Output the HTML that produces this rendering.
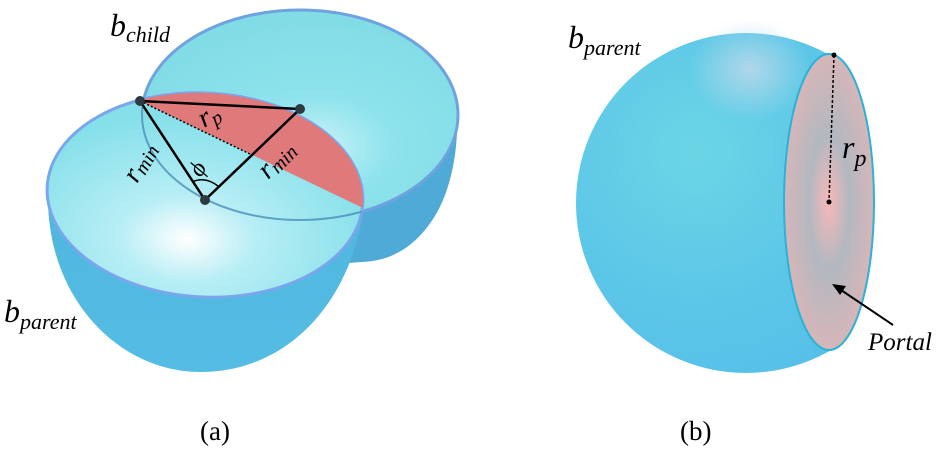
<!DOCTYPE html>
<html><head><meta charset="utf-8"><style>html,body{margin:0;padding:0;background:#fff}svg{display:block}</style></head><body>
<svg width="952" height="452" viewBox="0 0 952 452" xmlns="http://www.w3.org/2000/svg" font-family="Liberation Serif, serif">
<defs>
<radialGradient id="inA" cx="0.45" cy="0.72" r="0.6"><stop offset="0" stop-color="#ffffff"/><stop offset="0.35" stop-color="#b8eef5"/><stop offset="1" stop-color="#86e0ea"/></radialGradient>
<radialGradient id="inB" cx="0.55" cy="0.65" r="0.6"><stop offset="0" stop-color="#c9f2f8"/><stop offset="0.4" stop-color="#8ee3ec"/><stop offset="1" stop-color="#82dce6"/></radialGradient>
<linearGradient id="bodyA" x1="0" y1="0" x2="0" y2="1"><stop offset="0" stop-color="#4fb6de"/><stop offset="1" stop-color="#55bde3"/></linearGradient>
<radialGradient id="sph" cx="0.35" cy="0.35" r="0.75"><stop offset="0" stop-color="#6bd5e6"/><stop offset="0.6" stop-color="#5cc6e8"/><stop offset="1" stop-color="#56bfe8"/></radialGradient>
<radialGradient id="hl" cx="0.5" cy="0.5" r="0.5"><stop offset="0" stop-color="#b4d8ea" stop-opacity="0.95"/><stop offset="1" stop-color="#b4d8ea" stop-opacity="0"/></radialGradient>
<radialGradient id="portal" cx="0.5" cy="0.5" r="0.5"><stop offset="0" stop-color="#f7b8b8"/><stop offset="0.45" stop-color="#b2b8c0"/><stop offset="1" stop-color="#d6b6b8"/></radialGradient>
<clipPath id="cl"><rect x="0" y="0" width="829" height="452"/></clipPath>
<clipPath id="parentRim"><ellipse cx="205" cy="195" rx="158" ry="102" transform="rotate(3 205 195)"/></clipPath>
</defs>
<path d="M457,113 C460,200 420,262 360,262 L300,220 Z" fill="#4fa9d6"/>
<path d="M300,220 L457,113 C458,210 420,262 345,263 Z" fill="#50aad7"/>
<ellipse cx="300" cy="115" rx="158" ry="105" fill="url(#inB)" stroke="#6fa3e0" stroke-width="3"/>
<path d="M48,198 C48,300 120,372 200,372 C290,372 350,300 363,212 Z" fill="url(#bodyA)"/>
<ellipse cx="205" cy="195" rx="158" ry="102" transform="rotate(3 205 195)" fill="url(#inA)" stroke="#7aa6ec" stroke-width="3"/>
<g clip-path="url(#parentRim)">
<path d="M140,101 L363,208 L380,90 L140,80 Z" fill="#e07a7a"/>
<ellipse cx="300" cy="115" rx="158" ry="105" fill="none" stroke="#4a8fb8" stroke-width="2" opacity="0.8"/>
</g>
<line x1="140" y1="101" x2="252" y2="155" stroke="#000" stroke-width="1.5" stroke-dasharray="2,2"/>
<line x1="140" y1="101" x2="300" y2="109" stroke="#000" stroke-width="2.5"/>
<line x1="140" y1="101" x2="205" y2="200" stroke="#000" stroke-width="2.5"/>
<line x1="205" y1="200" x2="300" y2="109" stroke="#000" stroke-width="2.5"/>
<path d="M192,182 Q205,176 218,186" fill="none" stroke="#000" stroke-width="1.5"/>
<circle cx="140" cy="101" r="5" fill="#2b3b40"/><circle cx="300" cy="109" r="5" fill="#2b3b40"/><circle cx="205" cy="200" r="5" fill="#2b3b40"/>
<text x="110" y="36" font-size="32" font-style="italic">b<tspan font-size="22" dy="6">child</tspan></text>
<text x="4" y="322" font-size="32" font-style="italic">b<tspan font-size="22" dy="7">parent</tspan></text>
<text transform="translate(204,128) rotate(-30)" font-size="28" font-style="italic">r<tspan font-size="20" dy="4">p</tspan></text>
<text transform="translate(137,184) rotate(-60)" font-size="28" font-style="italic">r<tspan font-size="20" dy="3">min</tspan></text>
<text transform="translate(268,180) rotate(-45)" font-size="28" font-style="italic">r<tspan font-size="20" dy="3">min</tspan></text>
<text transform="translate(201,178) rotate(-60)" font-size="24" font-style="italic">ϕ</text>
<g clip-path="url(#cl)">
<circle cx="746" cy="203" r="170" fill="url(#sph)"/>
<ellipse cx="750" cy="70" rx="60" ry="50" fill="url(#hl)"/>
</g>
<ellipse cx="829" cy="202" rx="45" ry="148" fill="url(#portal)" stroke="#2ab2d8" stroke-width="2"/>
<line x1="834" y1="55" x2="829" y2="202" stroke="#000" stroke-width="1.5" stroke-dasharray="3,2"/>
<circle cx="834" cy="55" r="2.5" fill="#000"/><circle cx="829" cy="202" r="2.5" fill="#000"/>
<text x="842" y="158" font-size="32" font-style="italic">r<tspan font-size="24" dy="8">p</tspan></text>
<text x="568" y="48" font-size="32" font-style="italic">b<tspan font-size="22" dy="7">parent</tspan></text>
<line x1="893" y1="325" x2="838" y2="288" stroke="#000" stroke-width="2"/>
<path d="M832,284 L846,286 L840,295 Z" fill="#000"/>
<text x="868" y="350" font-size="25" font-style="italic">Portal</text>
<text x="200" y="440" font-size="27">(a)</text>
<text x="680" y="440" font-size="27">(b)</text>
</svg>
</body></html>
